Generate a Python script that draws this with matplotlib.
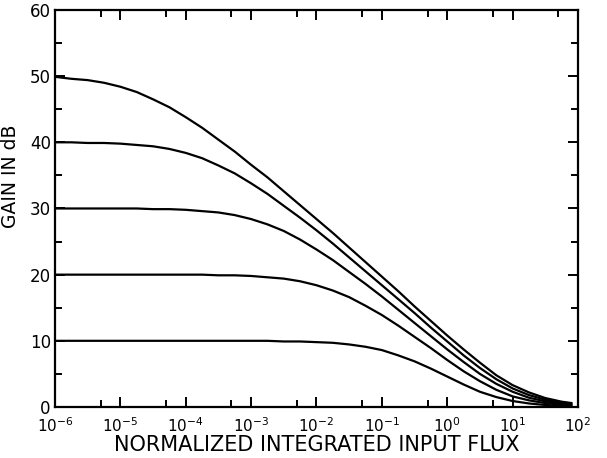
import numpy as np
import matplotlib
matplotlib.use('Agg')
import matplotlib.pyplot as plt
from matplotlib.ticker import FixedLocator

# normalized integrated input flux (x) and gain in dB for each small-signal gain
flux = [1e-6, 1.78e-6, 3.16e-6, 5.62e-6, 1e-5, 1.78e-5, 3.16e-5, 5.62e-5,
        1e-4, 1.78e-4, 3.16e-4, 5.62e-4, 1e-3, 1.78e-3, 3.16e-3, 5.62e-3,
        1e-2, 1.78e-2, 3.16e-2, 5.62e-2, 0.1, 0.178, 0.316, 0.562,
        1, 1.78, 3.16, 5.62, 10, 17.8, 31.6, 56.2, 79]

gain50 = [49.9, 49.6, 49.4, 49.0, 48.4, 47.6, 46.5, 45.3,
          43.8, 42.2, 40.4, 38.6, 36.6, 34.7, 32.6, 30.5,
          28.4, 26.3, 24.1, 21.9, 19.7, 17.5, 15.2, 13.0,
          10.8, 8.7, 6.7, 4.8, 3.3, 2.2, 1.35, 0.8, 0.6]
gain40 = [40.0, 40.0, 39.9, 39.9, 39.8, 39.6, 39.4, 39.0,
          38.4, 37.6, 36.5, 35.3, 33.8, 32.2, 30.4, 28.6,
          26.7, 24.7, 22.6, 20.5, 18.4, 16.3, 14.2, 12.0,
          9.9, 7.8, 5.9, 4.2, 2.8, 1.8, 1.1, 0.65, 0.48]
gain30 = [30.0, 30.0, 30.0, 30.0, 30.0, 30.0, 29.9, 29.9,
          29.8, 29.6, 29.4, 29.0, 28.4, 27.6, 26.6, 25.3,
          23.8, 22.2, 20.4, 18.6, 16.7, 14.7, 12.7, 10.7,
          8.7, 6.8, 5.0, 3.5, 2.3, 1.4, 0.86, 0.5, 0.36]
gain20 = [20.0, 20.0, 20.0, 20.0, 20.0, 20.0, 20.0, 20.0,
          20.0, 20.0, 19.9, 19.9, 19.8, 19.6, 19.4, 19.0,
          18.4, 17.6, 16.6, 15.3, 13.9, 12.3, 10.6, 8.9,
          7.1, 5.4, 3.9, 2.6, 1.6, 1.0, 0.59, 0.34, 0.25]
gain10 = [10.0, 10.0, 10.0, 10.0, 10.0, 10.0, 10.0, 10.0,
          10.0, 10.0, 10.0, 10.0, 10.0, 10.0, 9.9, 9.9,
          9.8, 9.7, 9.45, 9.1, 8.6, 7.8, 6.9, 5.8,
          4.6, 3.4, 2.3, 1.5, 0.9, 0.53, 0.3, 0.17, 0.12]

xticks = [1e-6, 1e-5, 1e-4, 1e-3, 1e-2, 1e-1, 1e0, 1e1, 1e2]
xticklabels = [r'$10^{-6}$', r'$10^{-5}$', r'$10^{-4}$', r'$10^{-3}$', r'$10^{-2}$',
               r'$10^{-1}$', r'$10^{0}$', r'$10^{1}$', r'$10^{2}$']
xminor = [5e-6, 5e-5, 5e-4, 5e-3, 5e-2, 5e-1, 5e0, 5e1]
yticks = [0, 10, 20, 30, 40, 50, 60]
yminor = [5, 15, 25, 35, 45, 55]

fig = plt.figure(figsize=(6.07, 4.58), dpi=100)
ax1 = fig.add_axes([0.0906, 0.1114, 0.8616, 0.8668])

for g in [gain50, gain40, gain30, gain20, gain10]:
    ax1.plot(flux, g, color='black', linestyle='solid', linewidth=1.6)

ax1.set_xscale('log')
ax1.set_xlim(1e-6, 1e2)
ax1.set_ylim(0, 60)

ax1.xaxis.set_major_locator(FixedLocator(xticks))
ax1.xaxis.set_minor_locator(FixedLocator(xminor))
ax1.set_xticklabels(xticklabels)
ax1.yaxis.set_major_locator(FixedLocator(yticks))
ax1.yaxis.set_minor_locator(FixedLocator(yminor))
ax1.set_yticklabels([str(v) for v in yticks])

ax1.tick_params(which='both', direction='in', top=True, right=True, width=1.4, colors='black')
ax1.tick_params(which='major', length=7)
ax1.tick_params(which='minor', length=5)
ax1.tick_params(axis='x', which='major', labelsize=11, pad=7)
ax1.tick_params(axis='y', which='major', labelsize=12, pad=3)
for s in ax1.spines.values():
    s.set_linewidth(1.6)

ax1.set_xlabel('NORMALIZED INTEGRATED INPUT FLUX', fontsize=15, labelpad=0)
ax1.set_ylabel('GAIN IN dB', fontsize=13.5)
ax1.yaxis.set_label_coords(-0.066, 0.58)

fig.savefig('out.png', dpi=100)
